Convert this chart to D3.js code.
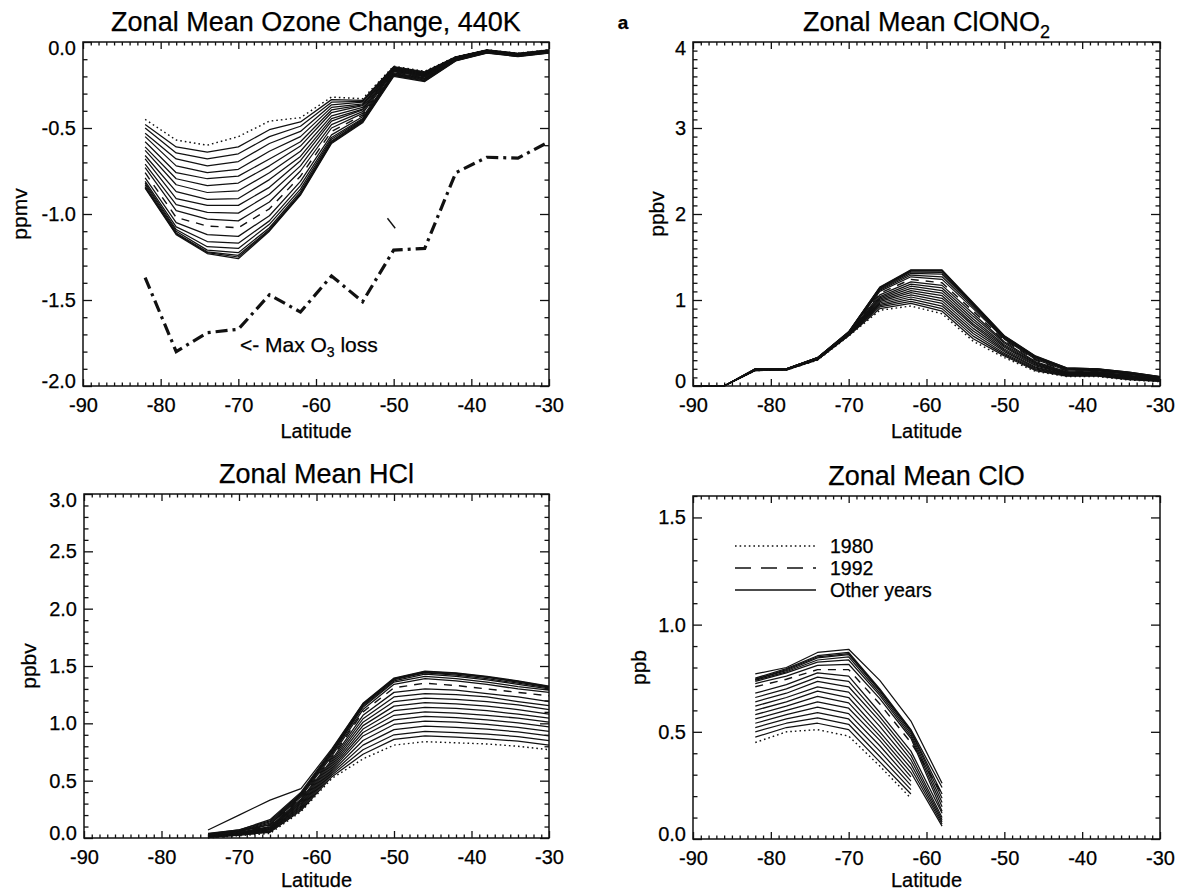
<!DOCTYPE html>
<html><head><meta charset="utf-8">
<script src="https://cdn.jsdelivr.net/npm/d3@7"></script>
<style>
body{margin:0;background:#fff}
svg{display:block}
text{font-family:"Liberation Sans",Arial,Helvetica,sans-serif;fill:#000;stroke:#000;stroke-width:0.25px}
</style>
</head><body>
<svg id="c" width="1180" height="892"></svg>
<script>
// ---------------- DATA ----------------
const YEARS = [1980,1981,1982,1983,1984,1985,1986,1987,1988,1989,1990,1991,1992,1993,1994,1995,1996,1997,1998,1999];
const X_TICKS = [-90,-80,-70,-60,-50,-40,-30];
const OZ_TICKS = [-2,-1.5,-1,-0.5,0];
const CLONO2_TICKS = [0,1,2,3,4];
const HCL_TICKS = [0,0.5,1,1.5,2,2.5,3];
const CLO_TICKS = [0,0.5,1,1.5];

// Ozone change (ppmv): rows = latitude, columns = YEARS
const OZ_LAT = [-82,-78,-74,-70,-66,-62,-58,-54,-50,-46,-42,-38,-34,-30];
const OZ_VALUES = [
 [-0.45,-0.48,-0.50,-0.53,-0.55,-0.58,-0.61,-0.63,-0.66,-0.68,-0.71,-0.73,-0.76,-0.79,-0.81,-0.82,-0.83,-0.84,-0.845,-0.85],
 [-0.57,-0.61,-0.645,-0.68,-0.72,-0.76,-0.795,-0.83,-0.87,-0.91,-0.945,-0.98,-1.02,-1.05,-1.075,-1.09,-1.10,-1.11,-1.115,-1.12],
 [-0.60,-0.64,-0.68,-0.72,-0.76,-0.795,-0.835,-0.875,-0.915,-0.95,-0.99,-1.03,-1.07,-1.12,-1.16,-1.19,-1.21,-1.22,-1.225,-1.23],
 [-0.55,-0.61,-0.65,-0.695,-0.74,-0.78,-0.82,-0.865,-0.91,-0.95,-0.995,-1.04,-1.08,-1.13,-1.17,-1.20,-1.225,-1.24,-1.25,-1.26],
 [-0.46,-0.51,-0.55,-0.59,-0.635,-0.68,-0.72,-0.76,-0.80,-0.845,-0.885,-0.93,-0.97,-1.01,-1.04,-1.06,-1.08,-1.09,-1.095,-1.10],
 [-0.44,-0.465,-0.49,-0.52,-0.55,-0.58,-0.605,-0.635,-0.665,-0.69,-0.72,-0.75,-0.78,-0.81,-0.835,-0.855,-0.87,-0.88,-0.885,-0.89],
 [-0.32,-0.335,-0.35,-0.365,-0.38,-0.395,-0.41,-0.43,-0.445,-0.46,-0.48,-0.50,-0.52,-0.54,-0.555,-0.565,-0.575,-0.58,-0.585,-0.59],
 [-0.33,-0.34,-0.345,-0.35,-0.36,-0.365,-0.37,-0.38,-0.39,-0.395,-0.405,-0.415,-0.425,-0.435,-0.445,-0.45,-0.455,-0.46,-0.465,-0.47],
 [-0.14,-0.143,-0.146,-0.149,-0.152,-0.155,-0.158,-0.161,-0.164,-0.167,-0.17,-0.173,-0.176,-0.18,-0.184,-0.188,-0.19,-0.193,-0.196,-0.20],
 [-0.17,-0.173,-0.176,-0.179,-0.182,-0.185,-0.188,-0.191,-0.194,-0.197,-0.20,-0.203,-0.206,-0.209,-0.212,-0.215,-0.218,-0.222,-0.226,-0.23],
 [-0.085,-0.086,-0.088,-0.089,-0.09,-0.092,-0.093,-0.095,-0.096,-0.097,-0.099,-0.10,-0.101,-0.103,-0.104,-0.105,-0.106,-0.107,-0.108,-0.11],
 [-0.045,-0.046,-0.047,-0.048,-0.049,-0.05,-0.051,-0.052,-0.053,-0.054,-0.055,-0.056,-0.057,-0.058,-0.059,-0.06,-0.061,-0.062,-0.063,-0.065],
 [-0.065,-0.066,-0.067,-0.068,-0.069,-0.07,-0.071,-0.072,-0.073,-0.074,-0.075,-0.076,-0.077,-0.078,-0.079,-0.08,-0.081,-0.082,-0.083,-0.085],
 [-0.045,-0.046,-0.047,-0.048,-0.049,-0.05,-0.051,-0.052,-0.053,-0.054,-0.055,-0.056,-0.057,-0.058,-0.059,-0.06,-0.061,-0.062,-0.063,-0.065]
];
const OZ_MAXLOSS = [-1.37,-1.80,-1.69,-1.67,-1.47,-1.57,-1.36,-1.51,-1.21,-1.20,-0.76,-0.67,-0.675,-0.58];
const OZ_STRAY_LAT = [-50.8,-49.8];
const OZ_STRAY_VAL = [-1.025,-1.083];

// ClONO2 (ppbv)
const CLONO2_LAT = [-90,-86,-82,-78,-74,-70,-66,-62,-58,-54,-50,-46,-42,-38,-34,-30];
const CLONO2_VALUES = [
 [0,0,0,0,0,0,0,0,0,0,0,0,0,0,0,0,0,0,0,0],
 [0,0,0,0,0,0,0,0,0,0,0,0,0,0,0,0,0,0,0,0],
 [0.18,0.18,0.18,0.185,0.185,0.185,0.19,0.19,0.19,0.19,0.19,0.19,0.195,0.195,0.195,0.195,0.195,0.2,0.2,0.2],
 [0.185,0.185,0.19,0.19,0.19,0.19,0.19,0.195,0.195,0.195,0.195,0.195,0.2,0.2,0.2,0.2,0.2,0.2,0.2,0.2],
 [0.30,0.305,0.305,0.31,0.31,0.31,0.315,0.315,0.315,0.32,0.32,0.32,0.325,0.325,0.325,0.33,0.33,0.33,0.33,0.33],
 [0.58,0.585,0.59,0.59,0.595,0.60,0.60,0.605,0.605,0.61,0.61,0.615,0.615,0.62,0.62,0.62,0.625,0.625,0.63,0.63],
 [0.88,0.90,0.92,0.935,0.95,0.965,0.98,0.995,1.01,1.025,1.04,1.06,1.08,1.10,1.115,1.125,1.135,1.14,1.145,1.15],
 [0.93,0.96,0.985,1.01,1.035,1.06,1.085,1.11,1.135,1.16,1.185,1.21,1.24,1.27,1.29,1.31,1.325,1.335,1.345,1.35],
 [0.84,0.87,0.90,0.93,0.96,0.99,1.02,1.05,1.08,1.11,1.14,1.17,1.20,1.24,1.27,1.30,1.32,1.335,1.345,1.35],
 [0.52,0.55,0.58,0.61,0.64,0.67,0.70,0.72,0.75,0.78,0.81,0.84,0.87,0.90,0.92,0.935,0.945,0.955,0.96,0.97],
 [0.33,0.35,0.365,0.38,0.40,0.415,0.43,0.45,0.465,0.48,0.50,0.515,0.53,0.545,0.555,0.565,0.57,0.575,0.58,0.585],
 [0.17,0.18,0.19,0.20,0.21,0.22,0.235,0.245,0.255,0.265,0.275,0.285,0.30,0.31,0.32,0.33,0.335,0.34,0.345,0.35],
 [0.11,0.115,0.12,0.125,0.13,0.135,0.14,0.145,0.15,0.155,0.16,0.165,0.175,0.18,0.19,0.195,0.20,0.205,0.21,0.21],
 [0.11,0.115,0.12,0.125,0.13,0.135,0.14,0.145,0.15,0.155,0.16,0.165,0.17,0.175,0.18,0.185,0.19,0.195,0.20,0.20],
 [0.07,0.075,0.08,0.085,0.09,0.095,0.10,0.105,0.11,0.115,0.12,0.125,0.13,0.135,0.14,0.145,0.15,0.155,0.16,0.16],
 [0.05,0.053,0.056,0.059,0.062,0.065,0.068,0.071,0.074,0.077,0.08,0.083,0.086,0.089,0.092,0.095,0.10,0.105,0.11,0.11]
];

// HCl (ppbv)
const HCL_LAT = [-74,-70,-66,-62,-58,-54,-50,-46,-42,-38,-34,-30];
const HCL_VALUES = [
 [0.0,0.005,0.005,0.01,0.01,0.01,0.015,0.015,0.015,0.02,0.02,0.02,0.025,0.025,0.03,0.03,0.03,0.035,0.04,0.07],
 [0.02,0.025,0.025,0.03,0.03,0.035,0.035,0.04,0.04,0.045,0.045,0.05,0.05,0.055,0.06,0.06,0.065,0.07,0.07,0.20],
 [0.04,0.05,0.055,0.06,0.065,0.07,0.075,0.08,0.085,0.09,0.095,0.10,0.11,0.115,0.12,0.13,0.14,0.15,0.16,0.33],
 [0.23,0.24,0.25,0.26,0.27,0.28,0.29,0.30,0.31,0.32,0.33,0.34,0.35,0.36,0.37,0.38,0.385,0.39,0.40,0.43],
 [0.52,0.535,0.55,0.565,0.58,0.595,0.61,0.625,0.64,0.655,0.67,0.685,0.70,0.715,0.73,0.74,0.75,0.76,0.77,0.78],
 [0.69,0.73,0.77,0.81,0.85,0.89,0.92,0.95,0.98,1.01,1.04,1.07,1.10,1.12,1.14,1.15,1.16,1.165,1.17,1.175],
 [0.81,0.86,0.90,0.945,0.99,1.03,1.07,1.11,1.15,1.19,1.23,1.27,1.31,1.34,1.36,1.37,1.38,1.385,1.39,1.395],
 [0.84,0.89,0.93,0.975,1.02,1.06,1.10,1.14,1.18,1.22,1.26,1.30,1.35,1.39,1.41,1.43,1.44,1.445,1.45,1.455],
 [0.83,0.88,0.92,0.965,1.01,1.05,1.09,1.13,1.17,1.21,1.25,1.29,1.33,1.37,1.39,1.41,1.42,1.43,1.435,1.44],
 [0.82,0.865,0.905,0.95,0.99,1.03,1.07,1.11,1.15,1.19,1.23,1.26,1.30,1.34,1.36,1.38,1.39,1.40,1.405,1.41],
 [0.80,0.845,0.885,0.925,0.965,1.005,1.045,1.08,1.12,1.16,1.19,1.23,1.27,1.30,1.32,1.34,1.35,1.36,1.365,1.37],
 [0.77,0.81,0.85,0.89,0.93,0.97,1.01,1.045,1.08,1.12,1.155,1.19,1.24,1.27,1.29,1.30,1.31,1.315,1.32,1.325]
];

// ClO (ppb)
const CLO_LAT = [-82,-78,-74,-70,-66,-62,-58];
const CLO_VALUES = [
 [0.45,0.475,0.50,0.52,0.54,0.56,0.58,0.60,0.62,0.64,0.66,0.68,0.71,0.725,0.735,0.74,0.745,0.745,0.75,0.77],
 [0.50,0.52,0.54,0.56,0.58,0.60,0.62,0.64,0.66,0.68,0.70,0.72,0.745,0.76,0.775,0.78,0.785,0.79,0.795,0.80],
 [0.51,0.54,0.565,0.59,0.615,0.64,0.665,0.69,0.71,0.735,0.755,0.775,0.79,0.81,0.825,0.835,0.845,0.85,0.855,0.87],
 [0.48,0.51,0.535,0.56,0.585,0.61,0.635,0.66,0.685,0.71,0.735,0.76,0.79,0.815,0.835,0.85,0.86,0.865,0.87,0.885],
 [0.34,0.36,0.385,0.41,0.435,0.46,0.48,0.50,0.525,0.55,0.57,0.59,0.63,0.655,0.67,0.68,0.69,0.695,0.70,0.74],
 [0.19,0.21,0.23,0.25,0.27,0.29,0.31,0.33,0.35,0.37,0.39,0.41,0.45,0.47,0.48,0.49,0.50,0.505,0.51,0.55],
 [null,null,null,null,null,null,0.06,0.07,0.08,0.09,0.10,0.12,0.21,0.13,0.15,0.17,0.19,0.21,0.24,0.26]
];

const LEGEND_LABELS = ["1980","1992","Other years"];

// ---------------- DRAWING ----------------
const svg = d3.select('#c');
const INK = '#111';

function styleFor(yr){
  if (yr === 1980) return {dash:'1.6,3', w:1.4};
  if (yr === 1992) return {dash:'8,7', w:1.4};
  return {dash:null, w:1.25};
}

function panel(o){
  const g = svg.append('g');
  const x = d3.scaleLinear().domain([-90,-30]).range([o.x0,o.x1]);
  const y = d3.scaleLinear().domain(o.yDom).range([o.y1,o.y0]);
  const xMinor = d3.range(-90,-29,1).filter(v => v % 10 !== 0);
  const lo = Math.round(o.yDom[0]*10), hi = Math.round(o.yDom[1]*10);
  const majSet = new Set(o.ticks.map(t => Math.round(t*10)));
  const yMinor = d3.range(lo, hi+1).filter(v => !majSet.has(v)).map(v => v/10);

  function clean(sel){
    sel.attr('font-size',null).attr('font-family',null);
    sel.selectAll('line').attr('stroke',INK).attr('stroke-width',1.3);
    sel.selectAll('.domain').remove();
  }
  g.append('rect').attr('x',o.x0).attr('y',o.y0).attr('width',o.x1-o.x0).attr('height',o.y1-o.y0)
    .attr('fill','none').attr('stroke',INK).attr('stroke-width',1.5);

  const xb = g.append('g').attr('transform',`translate(0,${o.y1})`)
    .call(d3.axisBottom(x).tickValues(X_TICKS).tickSize(-7).tickSizeOuter(0).tickPadding(12).tickFormat(d => String(d)));
  clean(xb);
  xb.selectAll('text').style('font-size','20px');
  g.append('g').attr('transform',`translate(0,${o.y1})`)
    .call(d3.axisBottom(x).tickValues(xMinor).tickSize(-3.5).tickSizeOuter(0).tickFormat('')).call(clean);
  g.append('g').attr('transform',`translate(0,${o.y0})`)
    .call(d3.axisTop(x).tickValues(X_TICKS).tickSize(-7).tickSizeOuter(0).tickFormat('')).call(clean);
  g.append('g').attr('transform',`translate(0,${o.y0})`)
    .call(d3.axisTop(x).tickValues(xMinor).tickSize(-3.5).tickSizeOuter(0).tickFormat('')).call(clean);
  const yl = g.append('g').attr('transform',`translate(${o.x0},0)`)
    .call(d3.axisLeft(y).tickValues(o.ticks).tickSize(-9).tickSizeOuter(0).tickPadding(7).tickFormat(o.fmt));
  clean(yl);
  yl.selectAll('text').style('font-size','20px')
    .attr('transform', d => d === o.yDom[1] ? 'translate(0,6)' : (d === o.yDom[0] ? 'translate(0,-5)' : null));
  g.append('g').attr('transform',`translate(${o.x0},0)`)
    .call(d3.axisLeft(y).tickValues(yMinor).tickSize(-4.5).tickSizeOuter(0).tickFormat('')).call(clean);
  g.append('g').attr('transform',`translate(${o.x1},0)`)
    .call(d3.axisRight(y).tickValues(o.ticks).tickSize(-9).tickSizeOuter(0).tickFormat('')).call(clean);
  g.append('g').attr('transform',`translate(${o.x1},0)`)
    .call(d3.axisRight(y).tickValues(yMinor).tickSize(-4.5).tickSizeOuter(0).tickFormat('')).call(clean);

  const t = g.append('text').attr('x',(o.x0+o.x1)/2).attr('y',o.y0-11).attr('text-anchor','middle')
    .style('font-size','27px');
  t.append('tspan').text(o.title);
  if (o.titleSub){ t.append('tspan').attr('dy',7).style('font-size','18px').text(o.titleSub); }

  g.append('text').attr('transform',`translate(${o.yLabelX},${(o.y0+o.y1)/2}) rotate(-90)`)
    .attr('text-anchor','middle').attr('dy','0.35em').style('font-size','21px').text(o.yLabel);
  g.append('text').attr('x',(o.x0+o.x1)/2).attr('y',o.y1+o.latDy).attr('text-anchor','middle')
    .style('font-size','20px').text('Latitude');

  const line = d3.line().defined(d => d[1] !== null).x(d => x(d[0])).y(d => y(d[1]));
  const rank = yr => (yr===1980?2:(yr===1992?1:0));
  const order = YEARS.map((yr,k)=>k).sort((a,b)=> rank(YEARS[a]) - rank(YEARS[b]) || a - b);
  const sg = g.append('g');
  order.forEach(k => {
    const pts = o.lat.map((lat,i) => [lat, o.values[i][k]]);
    const s = styleFor(YEARS[k]);
    sg.append('path').attr('d', line(pts)).attr('fill','none').attr('stroke',INK)
      .attr('stroke-width',s.w).attr('stroke-dasharray',s.dash).attr('stroke-linejoin','round');
  });
  return {g,x,y,line};
}

const p1 = panel({x0:83,x1:549,y0:42,y1:386,yDom:[-2,0],ticks:OZ_TICKS,fmt:d=>d.toFixed(1),
  title:'Zonal Mean Ozone Change, 440K',yLabel:'ppmv',yLabelX:20,lat:OZ_LAT,values:OZ_VALUES,latDy:52});
p1.g.append('path').attr('d',p1.line(OZ_LAT.map((l,i)=>[l,OZ_MAXLOSS[i]])))
  .attr('fill','none').attr('stroke',INK).attr('stroke-width',3.2).attr('stroke-dasharray','12,5,3,5');
p1.g.append('path').attr('d',p1.line(OZ_STRAY_LAT.map((l,i)=>[l,OZ_STRAY_VAL[i]])))
  .attr('fill','none').attr('stroke',INK).attr('stroke-width',1.4);
const ann = p1.g.append('text').attr('x',p1.x(-69.8)).attr('y',p1.y(-1.76)).attr('dy','0.35em').style('font-size','21px');
ann.append('tspan').text('<- Max O');
ann.append('tspan').attr('dy',5).style('font-size','14px').text('3');
ann.append('tspan').attr('dy',-5).text(' loss');

const p2 = panel({x0:693,x1:1160,y0:42,y1:386,yDom:[0,4],ticks:CLONO2_TICKS,fmt:d=>String(d),
  title:'Zonal Mean ClONO',titleSub:'2',yLabel:'ppbv',yLabelX:657,lat:CLONO2_LAT,values:CLONO2_VALUES,latDy:52});
p2.g.append('text').attr('x',623).attr('y',29).attr('text-anchor','middle').style('font-size','19px').style('font-weight','bold').text('a');

const p3 = panel({x0:84,x1:549,y0:494,y1:838,yDom:[0,3],ticks:HCL_TICKS,fmt:d=>d.toFixed(1),
  title:'Zonal Mean HCl',yLabel:'ppbv',yLabelX:29,lat:HCL_LAT,values:HCL_VALUES,latDy:49});

const p4 = panel({x0:693,x1:1160,y0:496,y1:839,yDom:[0,1.6],ticks:CLO_TICKS,fmt:d=>d.toFixed(1),
  title:'Zonal Mean ClO',yLabel:'ppb',yLabelX:639,lat:CLO_LAT,values:CLO_VALUES,latDy:48});

// legend
const legDash = ['1.6,3','16,10',null];
const lg = p4.g.append('g').attr('transform',`translate(${693+42},${496+50})`);
LEGEND_LABELS.forEach((lab,i) => {
  lg.append('line').attr('x1',0).attr('x2',81).attr('y1',i*22).attr('y2',i*22)
    .attr('stroke',INK).attr('stroke-width',1.3).attr('stroke-dasharray',legDash[i]);
  lg.append('text').attr('x',95).attr('y',i*22).attr('dy','0.35em').style('font-size','19.5px').text(lab);
});
</script>
</body></html>
